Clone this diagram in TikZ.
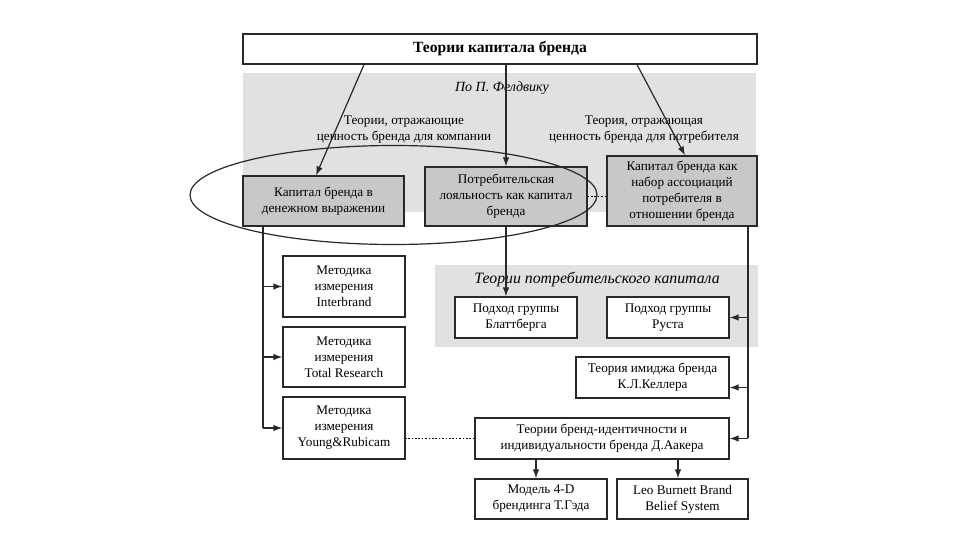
\documentclass[tikz,border=0pt]{standalone}
\usepackage{fontspec}
\setmainfont{Liberation Serif}
\usepackage{tikz}
\usetikzlibrary{arrows.meta}

\definecolor{bandgrey}{RGB}{225,225,225}
\definecolor{boxgrey}{RGB}{200,200,200}
\definecolor{linegrey}{RGB}{40,40,40}

\newcommand{\boxfont}{\fontsize{13.2}{16}\selectfont}

\tikzset{
    box/.style={draw=linegrey, line width=1.2pt, fill=white, align=center,
        inner sep=1pt, font=\boxfont},
    shbox/.style={box, fill=boxgrey},
    conn/.style={draw=linegrey, line width=1.2pt},
    arr/.style={conn, -{Latex[length=9pt,width=6.5pt]}},
    dots/.style={draw=black, line width=1.6pt, dash pattern=on 1.6pt off 1.8pt},
    caption/.style={align=center, font=\boxfont}
}

\begin{document}
\begin{tikzpicture}[x=1pt, y=-1pt]

        \useasboundingbox (0,0) rectangle (960,540);

        % grey bands
        \fill[bandgrey] (243,73) rectangle (756,212);
        \fill[bandgrey] (435,265) rectangle (758,347);

        \node[box, minimum width=514, minimum height=30, font=\fontsize{15.6}{18}\selectfont\bfseries] (title) at (500,49) {Теории капитала бренда};

        \node[caption, font=\fontsize{14}{16}\selectfont\itshape] (feld) at (502,88) {По П. Фелдвику};
        \node[caption] (lcap) at (404,130) {Теории, отражающие\\ценность бренда для компании};
        \node[caption] (rcap) at (644,130) {Теория, отражающая\\ценность бренда для потребителя};

        \node[shbox, minimum width=162, minimum height=59] (loyal) at (506,196.5) {Потребительская\\лояльность как капитал\\бренда};
        \draw[conn] (393.5,195) ellipse [x radius=203.5, y radius=49.5];
        \node[shbox, minimum width=161, minimum height=50] (money) at (323.5,201) {Капитал бренда в\\денежном выражении};
        \node[shbox, minimum width=150, minimum height=70] (assoc) at (682,191) {Капитал бренда как\\набор ассоциаций\\потребителя в\\отношении бренда};

        \node[box, minimum width=122, minimum height=61] (intbr) at (344,286.5) {Методика\\измерения\\Interbrand};
        \node[box, minimum width=122, minimum height=60] (totres) at (344,357) {Методика\\измерения\\Total Research};
        \node[box, minimum width=122, minimum height=62] (young) at (344,428) {Методика\\измерения\\Young\&Rubicam};

        \node[caption, font=\fontsize{15.8}{18}\selectfont\itshape] (cons) at (597,280) {Теории потребительского капитала};
        \node[box, minimum width=122, minimum height=41] (blatt) at (516,317.5) {Подход группы\\Блаттберга};
        \node[box, minimum width=122, minimum height=41] (rust) at (668,317.5) {Подход группы\\Руста};
        \node[box, minimum width=153, minimum height=41] (keller) at (652.5,377.5) {Теория имиджа бренда\\К.Л.Келлера};
        \node[box, minimum width=254, minimum height=41] (aaker) at (602,438.5) {Теории бренд-идентичности и\\индивидуальности бренда Д.Аакера};
        \node[box, minimum width=132, minimum height=40] (gad) at (541,499) {Модель 4-D\\брендинга Т.Гэда};
        \node[box, minimum width=131, minimum height=40] (leo) at (682.5,499) {Leo Burnett Brand\\Belief System};

        \coordinate (lspine) at (263,428);
        \coordinate (rspine) at (748,438);

        % from the title
        \draw[arr] ([xshift=-136]title.south) -- ([xshift=-7.5]money.north);
        \draw[arr] (loyal.north |- title.south) -- (loyal.north);
        \draw[arr] ([xshift=137]title.south) -- ([xshift=3]assoc.north);

        \draw[dots] (loyal.east) -- (loyal.east -| assoc.west);
        \draw[arr] (loyal.south) -- (loyal.south |- blatt.north);

        % left spine
        \draw[conn] (money.south -| lspine) -- (lspine);
        \draw[arr] (intbr.west -| lspine) -- (intbr.west);
        \draw[arr] (totres.west -| lspine) -- (totres.west);
        \draw[arr] (young.west -| lspine) -- (young.west);

        % right spine
        \draw[conn] (assoc.south -| rspine) -- (rspine);
        \draw[arr] (rust.east -| rspine) -- (rust.east);
        \draw[arr] ([yshift=-10]keller.east -| rspine) -- ([yshift=-10]keller.east);
        \draw[arr] (aaker.east -| rspine) -- (aaker.east);

        \draw[dots] (aaker.west) -- (aaker.west -| young.east);
        \draw[arr] (aaker.south -| 536,0) -- (gad.north -| 536,0);
        \draw[arr] (aaker.south -| 678,0) -- (leo.north -| 678,0);

\end{tikzpicture}
\end{document}
